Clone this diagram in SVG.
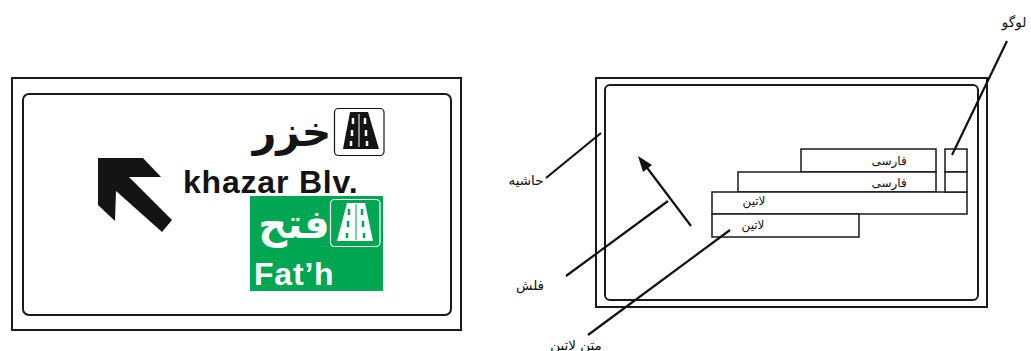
<svg xmlns="http://www.w3.org/2000/svg" width="1031" height="351" viewBox="0 0 1031 351">
<style>
.box{fill:none;stroke:#1a1a1a;stroke-width:2}
.thin{fill:#fff;stroke:#1a1a1a;stroke-width:1.5}
.lead{fill:none;stroke:#111;stroke-width:2.200}
.lab{font-family:"DejaVu Sans","Noto Sans",sans-serif;font-size:12px;fill:#111;direction:rtl;text-anchor:middle}
.out{font-size:13.500px}
.big{font-family:"DejaVu Sans",sans-serif;font-weight:bold;direction:rtl;text-anchor:middle}
.lat{font-family:"Liberation Sans",Arial,sans-serif;font-weight:bold;font-size:32px;letter-spacing:.8px}
</style>
<rect width="1031" height="351" fill="#fff"/>
<g id="sign">
<rect class="box" x="12" y="78" width="449" height="252"/>
<rect class="box" x="23" y="94" width="428" height="221" rx="6"/>
<polygon fill="#141414" points="98,158 143,158 161,177 129,177 172,220 162,232 116,191 115,221 98,205"/>
<text class="big" x="292" y="146" font-size="41" fill="#141414">خزر</text>
<rect x="334.500" y="108.500" width="49.500" height="47" rx="4" fill="#fff" stroke="#141414" stroke-width="1.200"/>
<polygon fill="#141414" points="350,112 368,112 379,149 343,149"/>
<path d="M359 114V147" stroke="#fff" stroke-width="1"/>
<path d="M353 118V124M352 130V136M351 141V146M365 118V124M366 130V136M367 141V146" stroke="#fff" stroke-width="2.500"/>
<text class="lat" x="183" y="193" fill="#141414">khazar Blv.</text>
<rect x="250" y="196" width="133" height="95" fill="#00a651"/>
<rect x="330.500" y="199.500" width="49.500" height="47" rx="4" fill="none" stroke="#fff" stroke-width="1.200"/>
<polygon fill="#fff" points="347,203 365,203 373,241 337,241"/>
<path d="M356 204V240" stroke="#00a651" stroke-width="1"/>
<path d="M349 209V215M348 221V227M347 233V238M362 209V215M363 221V227M364 233V238" stroke="#00a651" stroke-width="2.500"/>
<text class="big" x="294" y="238" font-size="40" fill="#fff">فتح</text>
<text class="lat" x="254" y="285" fill="#fff">Fat’h</text>
</g>
<g id="layout">
<rect class="box" x="596" y="78" width="391" height="229"/>
<rect class="box" x="605" y="85" width="373" height="215" rx="5"/>
</g>
<g id="persian-1"><rect class="thin" x="801" y="149" width="135" height="23"/><text class="lab" x="889" y="165">فارسی</text></g>
<g id="persian-2"><rect class="thin" x="738" y="172" width="198" height="20"/><text class="lab" x="889" y="187">فارسی</text></g>
<g id="latin-1"><rect class="thin" x="712" y="192" width="255" height="22"/><text class="lab" x="754" y="205">لاتین</text></g>
<g id="latin-2"><rect class="thin" x="712" y="214" width="147" height="23"/><text class="lab" x="753" y="229">لاتین</text></g>
<g id="logo"><rect class="thin" x="945" y="149" width="22" height="23"/><rect class="thin" x="945" y="172" width="22" height="20"/></g>
<g id="connectors">
<path class="lead" d="M1007 41L952 155"/>
<path class="lead" d="M601 133L546 178"/>
<path class="lead" d="M691 226L645 165"/>
<polygon fill="#111" points="638,156 652,165 643,172"/>
<path class="lead" d="M668 201L566 276"/>
<path class="lead" d="M730 230L588 335"/>
</g>
<g id="labels">
<text class="lab out" x="1014" y="27">لوگو</text>
<text class="lab out" x="526" y="185">حاشیه</text>
<text class="lab out" x="530" y="290">فلش</text>
<text class="lab out" x="576" y="350">متن لاتین</text>
</g>
</svg>
